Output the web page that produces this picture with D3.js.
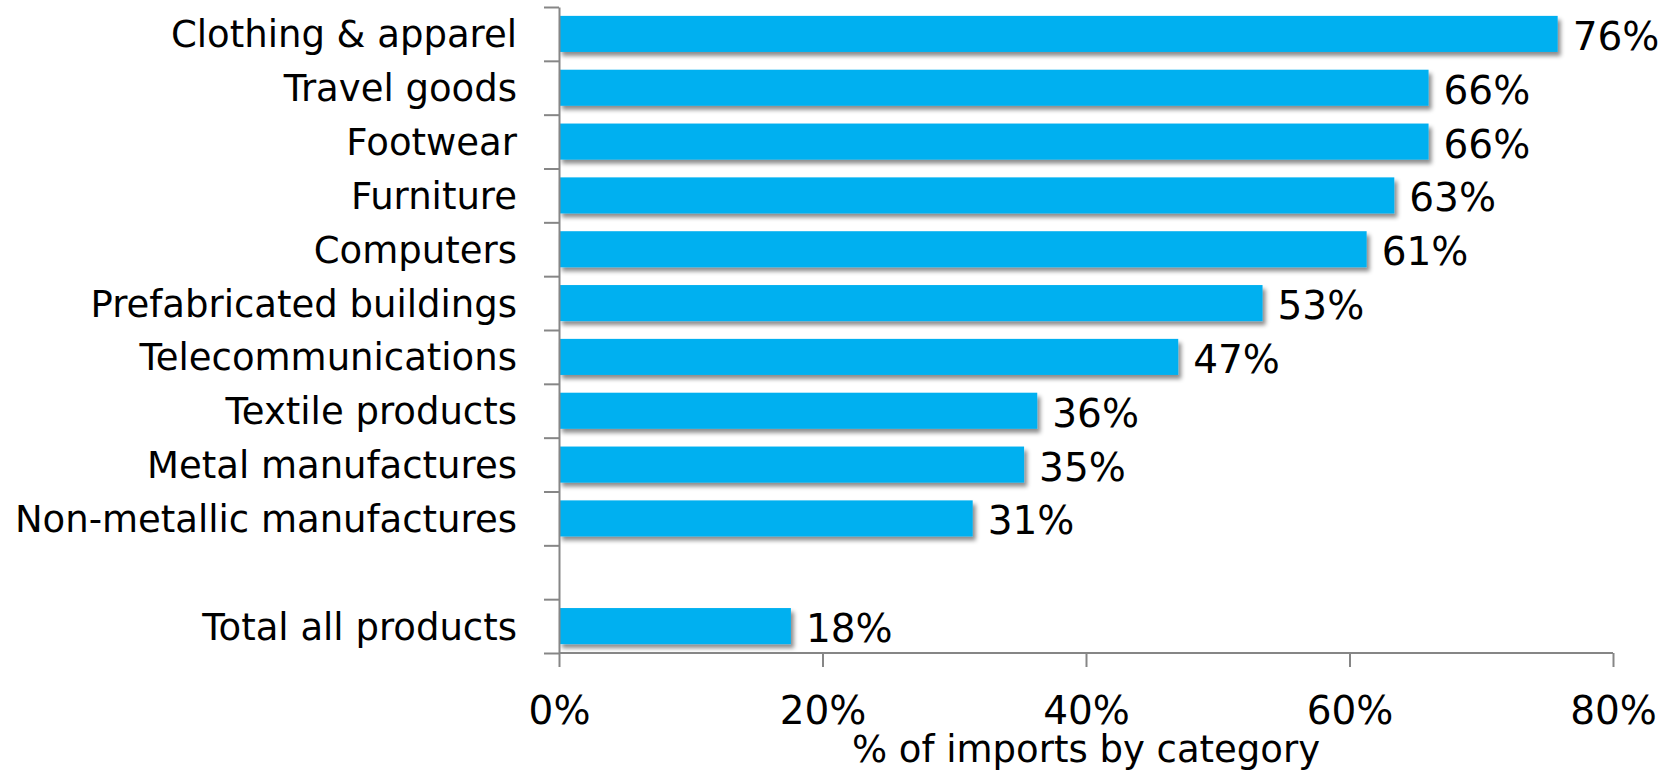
<!DOCTYPE html>
<html>
<head>
<meta charset="utf-8">
<script src="https://cdn.jsdelivr.net/npm/d3@7"></script>
<style>
  html, body { margin: 0; padding: 0; background: #fff; }
  svg { display: block; }
  text { font-family: "DejaVu Sans", sans-serif; fill: #000; }
</style>
</head>
<body>
<svg id="chart" width="1678" height="770"></svg>
<script>
// ---- data ----
const categories = [
  "Clothing & apparel",
  "Travel goods",
  "Footwear",
  "Furniture",
  "Computers",
  "Prefabricated buildings",
  "Telecommunications",
  "Textile products",
  "Metal manufactures",
  "Non-metallic manufactures"
];
const values = [0.758, 0.66, 0.66, 0.634, 0.613, 0.534, 0.47, 0.363, 0.353, 0.314];
const totalLabel = "Total all products";
const totalValue = 0.176;
const xTicks = [0, 0.2, 0.4, 0.6, 0.8];
const xTitle = "% of imports by category";

// ---- layout ----
const plotLeft = 559, plotRight = 1613, plotTop = 7, plotBottom = 653;
const FONT = '"DejaVu Sans", sans-serif';

const svg = d3.select("#chart");

const defs = svg.append("defs");
const f = defs.append("filter").attr("id", "shadow")
  .attr("x", "-5%").attr("y", "-30%").attr("width", "115%").attr("height", "180%");
f.append("feDropShadow").attr("dx", 3).attr("dy", 4).attr("stdDeviation", 2.2)
  .attr("flood-color", "#000").attr("flood-opacity", 0.45);

const gapKey = " ";
const domainKeys = categories.concat([gapKey, totalLabel]);
const rows = categories.map((c, i) => ({ cat: c, v: values[i] }))
  .concat([{ cat: totalLabel, v: totalValue }]);

const x = d3.scaleLinear().domain([0, 0.8]).range([plotLeft, plotRight]);
const y = d3.scaleBand().domain(domainKeys).range([plotTop, plotBottom])
  .paddingInner(0.33).paddingOuter(0.165);

const fmt = v => d3.format(".0%")(Math.round(v * 100) / 100);

// bars
svg.append("g").selectAll("rect").data(rows).join("rect")
  .attr("x", x(0))
  .attr("y", d => y(d.cat))
  .attr("width", d => x(d.v) - x(0))
  .attr("height", y.bandwidth())
  .attr("fill", "#00B0F0")
  .attr("filter", "url(#shadow)");

// value labels
svg.append("g").selectAll("text").data(rows).join("text")
  .attr("x", d => x(d.v) + 15)
  .attr("y", d => y(d.cat) + y.bandwidth() / 2 + 16)
  .attr("font-size", 39)
  .text(d => fmt(d.v));

// category labels
svg.append("g").selectAll("text").data(rows).join("text")
  .attr("x", 517)
  .attr("y", d => y(d.cat) + y.bandwidth() / 2 + 13.5)
  .attr("text-anchor", "end")
  .attr("font-size", 37)
  .text(d => d.cat);

// left axis: tick marks at category boundaries
const yb = d3.scaleLinear().domain([0, domainKeys.length]).range([plotTop, plotBottom]);
const yAxis = svg.append("g").attr("transform", `translate(${plotLeft},0)`)
  .call(d3.axisLeft(yb).tickValues(d3.range(domainKeys.length + 1))
    .tickSize(15).tickSizeOuter(0).tickFormat(""));
yAxis.selectAll("path, line").attr("stroke", "#868686").attr("stroke-width", 2);

// bottom axis
const xAxis = svg.append("g").attr("transform", `translate(0,${plotBottom})`)
  .call(d3.axisBottom(x).tickValues(xTicks).tickSize(14).tickSizeOuter(0)
    .tickFormat(d3.format(".0%")));
xAxis.selectAll("path, line").attr("stroke", "#868686").attr("stroke-width", 2);
xAxis.selectAll("text").attr("y", 71).attr("dy", 0)
  .attr("font-size", 39).attr("fill", "#000")
  .style("font-family", FONT);
xAxis.selectAll(".domain").attr("d", `M${plotLeft},0H${plotRight}`);

// axis title
svg.append("text")
  .attr("x", 1086).attr("y", 762)
  .attr("text-anchor", "middle")
  .attr("font-size", 37)
  .text(xTitle);
</script>
</body>
</html>
